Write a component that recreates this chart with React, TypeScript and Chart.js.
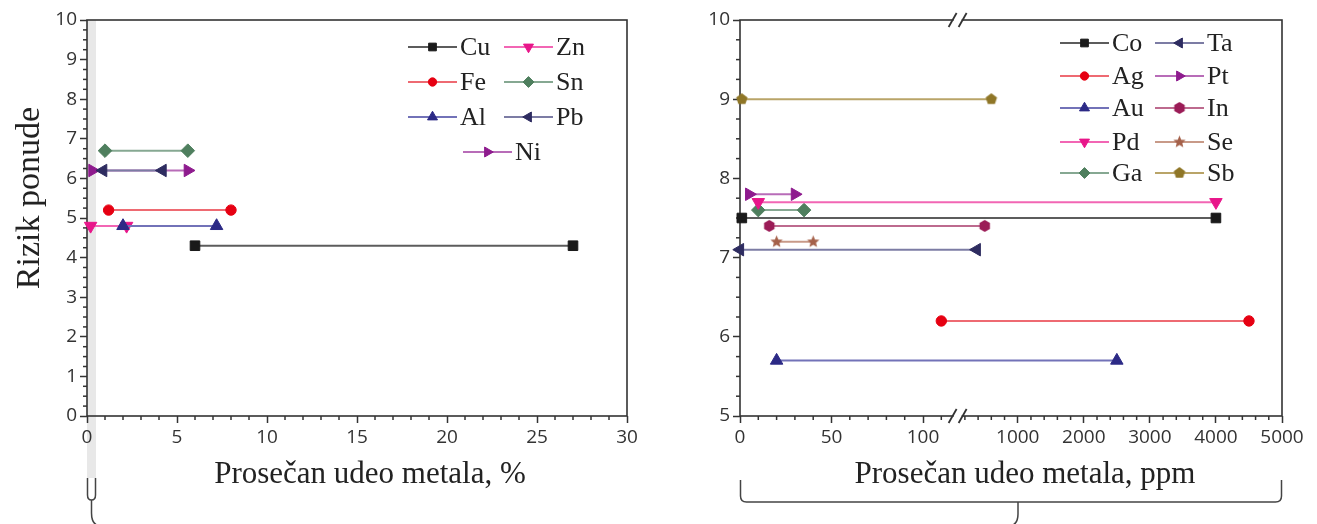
import React, { useEffect, useRef } from 'react';
import { Chart, registerables } from 'chart.js';
import { drawPoint } from 'chart.js/helpers';

Chart.register(...registerables);

// ---------------- Data ----------------
const LEFT_METALS = ['Cu', 'Fe', 'Al', 'Zn', 'Sn', 'Pb', 'Ni'];
const LEFT_RISK = [4.3, 5.2, 4.8, 4.8, 6.7, 6.2, 6.2];
const LEFT_MIN = [6.0, 1.2, 2.0, 0.2, 1.0, 0.9, 0.3];
const LEFT_MAX = [27.0, 8.0, 7.2, 2.2, 5.6, 4.2, 5.6];
const LEFT_X_TICKS = [0, 5, 10, 15, 20, 25, 30];
const LEFT_Y_TICKS = [0, 1, 2, 3, 4, 5, 6, 7, 8, 9, 10];
const LEFT_BAND = [0, 0.5];

const RIGHT_METALS = ['Co', 'Ag', 'Au', 'Pd', 'Ga', 'Ta', 'Pt', 'In', 'Se', 'Sb'];
const RIGHT_RISK = [7.5, 6.2, 5.7, 7.7, 7.6, 7.1, 7.8, 7.4, 7.2, 9.0];
const RIGHT_MIN = [1, 110, 20, 10, 10, 0, 5, 16, 20, 1];
const RIGHT_MAX = [4000, 4500, 2500, 4000, 35, 380, 30, 500, 40, 600];
const RIGHT_X_TICKS = [0, 50, 100, 1000, 2000, 3000, 4000, 5000];
const RIGHT_Y_TICKS = [5, 6, 7, 8, 9, 10];
const X_BREAK = 120;
const X_MAX = 5000;

const X_TITLE_LEFT = 'Prosečan udeo metala, %';
const X_TITLE_RIGHT = 'Prosečan udeo metala, ppm';
const Y_TITLE = 'Rizik ponude';

// ---------------- Styles ----------------
const UPPER_RATIO = 0.0361; // scale factor of the segment after the axis break
const toV = (x: number) => (x <= X_BREAK ? x : X_BREAK + (x - X_BREAK) * UPPER_RATIO);
const fromV = (v: number) => (v <= X_BREAK ? v : X_BREAK + (v - X_BREAK) / UPPER_RATIO);

const AXIS = '#333';
const TEXT = '#222';
const TICK_FONT = { family: '"Open Sans", sans-serif', size: 19 };
const TITLE_FONT = '31px "Liberation Serif", serif';
const Y_TITLE_FONT = '34px "Liberation Serif", serif';
const LEGEND_FONT = '26px "Liberation Serif", serif';

type St = { marker: string; line: string; shape: string; rot: number; r: number };
const STYLES: Record<string, St> = {
  Cu: { marker: '#1a1a1a', line: '#5c5c5c', shape: 'rect', rot: 0, r: 6.8 },
  Fe: { marker: '#e60012', line: '#ee6a72', shape: 'circle', rot: 0, r: 5.2 },
  Al: { marker: '#2c2a86', line: '#7272b8', shape: 'triangle', rot: 0, r: 7.2 },
  Zn: { marker: '#e8168a', line: '#f266b4', shape: 'triangle', rot: 180, r: 7.2 },
  Sn: { marker: '#4f7f5e', line: '#86a892', shape: 'rectRot', rot: 0, r: 6.8 },
  Pb: { marker: '#2e2c60', line: '#7c7ca4', shape: 'triangle', rot: -90, r: 7.2 },
  Ni: { marker: '#8e1b8e', line: '#b86cb8', shape: 'triangle', rot: 90, r: 7.2 },
  Co: { marker: '#1a1a1a', line: '#5c5c5c', shape: 'rect', rot: 0, r: 6.8 },
  Ag: { marker: '#e60012', line: '#ee6a72', shape: 'circle', rot: 0, r: 5.2 },
  Au: { marker: '#2c2a86', line: '#7272b8', shape: 'triangle', rot: 0, r: 7.2 },
  Pd: { marker: '#e8168a', line: '#f266b4', shape: 'triangle', rot: 180, r: 7.2 },
  Ga: { marker: '#4f7f5e', line: '#86a892', shape: 'rectRot', rot: 0, r: 6.8 },
  Ta: { marker: '#2e2c60', line: '#7c7ca4', shape: 'triangle', rot: -90, r: 7.2 },
  Pt: { marker: '#8e1b8e', line: '#b86cb8', shape: 'triangle', rot: 90, r: 7.2 },
  In: { marker: '#9b1c57', line: '#bd6a8e', shape: 'hexagon', rot: 0, r: 6 },
  Se: { marker: '#a5614a', line: '#c89a88', shape: 'star', rot: 0, r: 6.5 },
  Sb: { marker: '#8f7627', line: '#b9a468', shape: 'pentagon', rot: 0, r: 6 },
};

function makeShape(kind: string, color: string, r: number): HTMLCanvasElement {
  const size = Math.ceil(r * 2 + 2);
  const c = document.createElement('canvas');
  c.width = size;
  c.height = size;
  const ctx = c.getContext('2d')!;
  ctx.fillStyle = color;
  ctx.beginPath();
  const star = kind === 'star';
  const n = kind === 'hexagon' ? 6 : 5;
  const pts = star ? n * 2 : n;
  for (let k = 0; k < pts; k++) {
    const a = -Math.PI / 2 + (k * 2 * Math.PI) / pts;
    const rr = star ? (k % 2 === 0 ? r : r * 0.45) : r;
    const px = size / 2 + rr * Math.cos(a);
    const py = size / 2 + rr * Math.sin(a);
    if (k === 0) ctx.moveTo(px, py);
    else ctx.lineTo(px, py);
  }
  ctx.closePath();
  ctx.fill();
  return c;
}

function buildDatasets(names: string[], risk: number[], mn: number[], mx: number[], map: (x: number) => number) {
  return names.map((n, i) => {
    const st = STYLES[n];
    const custom = ['hexagon', 'star', 'pentagon'].includes(st.shape);
    const ps: any = custom ? makeShape(st.shape, st.marker, st.r) : st.shape;
    return {
      label: n,
      data: [
        { x: map(mn[i]), y: risk[i] },
        { x: map(mx[i]), y: risk[i] },
      ],
      showLine: true,
      borderColor: st.line,
      borderWidth: 2,
      backgroundColor: st.marker,
      pointBackgroundColor: st.marker,
      pointBorderColor: st.marker,
      pointBorderWidth: 1,
      pointStyle: ps,
      pointRotation: st.rot,
      pointRadius: st.r,
      pointHoverRadius: st.r,
      clip: false as any,
    };
  });
}

function line(ctx: CanvasRenderingContext2D, x1: number, y1: number, x2: number, y2: number) {
  ctx.beginPath();
  ctx.moveTo(x1, y1);
  ctx.lineTo(x2, y2);
  ctx.stroke();
}

function scaleCfg(min: number, max: number, ticks: number[], label: (v: number) => string, fit: 'w' | 'h', size: number) {
  return {
    type: 'linear' as const,
    min,
    max,
    afterBuildTicks: (s: any) => {
      s.ticks = ticks.map((v) => ({ value: v }));
    },
    afterFit: (s: any) => {
      if (fit === 'w') s.width = size;
      else s.height = size;
    },
    ticks: {
      autoSkip: false,
      maxRotation: 0,
      padding: 3,
      color: '#333',
      font: TICK_FONT,
      callback: (v: any) => label(Number(v)),
    },
    grid: { drawOnChartArea: false, drawTicks: true, tickLength: 7, tickColor: AXIS, tickWidth: 1.5 },
    border: { display: false },
  };
}

type Deco = {
  xMinor: number[];
  yMinor: number[];
  legend: { i: number; x: number; y: number }[];
  xTitle: string;
  xTitleDx: number;
  yTitle?: string;
  band?: number[];
  brk?: number;
  leftBracket?: boolean;
  rightBracket?: boolean;
};

function decoPlugin(d: Deco) {
  return {
    id: 'deco',
    beforeDraw(chart: any) {
      if (!d.band) return;
      const { ctx, chartArea, scales } = chart;
      const x0 = scales.x.getPixelForValue(d.band[0]);
      const x1 = scales.x.getPixelForValue(d.band[1]);
      ctx.save();
      ctx.fillStyle = '#e8e8e8';
      ctx.fillRect(x0, chartArea.top, x1 - x0, 478 - chartArea.top);
      ctx.restore();
    },
    beforeDatasetsDraw(chart: any) {
      const { ctx, chartArea: a, scales } = chart;
      ctx.save();
      ctx.strokeStyle = AXIS;
      ctx.lineWidth = 1.6;
      ctx.strokeRect(a.left, a.top, a.right - a.left, a.bottom - a.top);
      ctx.lineWidth = 1.5;
      d.xMinor.forEach((v) => {
        const px = scales.x.getPixelForValue(v);
        line(ctx, px, a.bottom, px, a.bottom + 4);
      });
      d.yMinor.forEach((v) => {
        const py = scales.y.getPixelForValue(v);
        line(ctx, a.left, py, a.left - 4, py);
      });
      ctx.restore();
    },
    afterDraw(chart: any) {
      const { ctx, chartArea: a, scales } = chart;
      ctx.save();
      // axis break marks
      if (d.brk !== undefined) {
        const bp = scales.x.getPixelForValue(d.brk) - 2;
        [a.top, a.bottom].forEach((y) => {
          ctx.fillStyle = '#fff';
          ctx.fillRect(bp - 4, y - 2, 8, 4);
          ctx.strokeStyle = AXIS;
          ctx.lineWidth = 1.8;
          line(ctx, bp - 9, y + 7, bp - 1, y - 7);
          line(ctx, bp + 1, y + 7, bp + 9, y - 7);
        });
      }
      // legend
      d.legend.forEach((it) => {
        const ds: any = chart.data.datasets[it.i];
        const x = a.left + it.x;
        const y = a.top + it.y;
        ctx.strokeStyle = ds.borderColor;
        ctx.lineWidth = 2;
        line(ctx, x, y, x + 49, y);
        ctx.fillStyle = ds.pointBackgroundColor;
        ctx.strokeStyle = ds.pointBorderColor;
        ctx.lineWidth = 1;
        drawPoint(ctx, { pointStyle: ds.pointStyle, rotation: ds.pointRotation, radius: ds.pointRadius * 0.8, borderWidth: 1 } as any, x + 24.5, y);
        ctx.fillStyle = TEXT;
        ctx.font = LEGEND_FONT;
        ctx.textBaseline = 'middle';
        ctx.textAlign = 'left';
        ctx.fillText(ds.label, x + 52, y + 1);
      });
      // titles
      ctx.fillStyle = TEXT;
      ctx.font = TITLE_FONT;
      ctx.textAlign = 'center';
      ctx.textBaseline = 'middle';
      ctx.fillText(d.xTitle, (a.left + a.right) / 2 + d.xTitleDx, a.bottom + 59);
      if (d.yTitle) {
        ctx.save();
        ctx.font = Y_TITLE_FONT;
        ctx.translate(30, (a.top + a.bottom) / 2 - 20);
        ctx.rotate(-Math.PI / 2);
        ctx.fillText(d.yTitle, 0, 0);
        ctx.restore();
      }
      // brackets
      ctx.strokeStyle = '#444';
      ctx.lineWidth = 1.5;
      if (d.leftBracket && d.band) {
        const x0 = scales.x.getPixelForValue(d.band[0]) + 0.5;
        const x1 = scales.x.getPixelForValue(d.band[1]) - 0.5;
        const xm = (x0 + x1) / 2;
        ctx.beginPath();
        ctx.moveTo(x0, 478);
        ctx.lineTo(x0, 495);
        ctx.quadraticCurveTo(x0, 500, xm, 500);
        ctx.quadraticCurveTo(x1, 500, x1, 495);
        ctx.lineTo(x1, 478);
        ctx.moveTo(xm, 500);
        ctx.lineTo(xm, 513);
        ctx.quadraticCurveTo(xm, 526, xm + 10, 526);
        ctx.lineTo(chart.width + 5, 526);
        ctx.stroke();
      }
      if (d.rightBracket) {
        const l = a.left + 0.5;
        const r = a.right - 0.5;
        const yb = 502;
        const sx = a.left + 278;
        ctx.beginPath();
        ctx.moveTo(l, 480);
        ctx.lineTo(l, yb - 6);
        ctx.quadraticCurveTo(l, yb, l + 6, yb);
        ctx.lineTo(r - 6, yb);
        ctx.quadraticCurveTo(r, yb, r, yb - 6);
        ctx.lineTo(r, 480);
        ctx.moveTo(sx, yb);
        ctx.lineTo(sx, 514);
        ctx.quadraticCurveTo(sx, 526, sx - 10, 526);
        ctx.lineTo(-5, 526);
        ctx.stroke();
      }
      ctx.restore();
    },
  };
}

function range(a: number, b: number, step: number, skip: number[]) {
  const out: number[] = [];
  for (let v = a; v <= b + 1e-9; v += step) {
    const r = Math.round(v * 1000) / 1000;
    if (!skip.some((s) => Math.abs(s - r) < 1e-6)) out.push(r);
  }
  return out;
}

export default function App() {
  const leftRef = useRef<HTMLCanvasElement>(null);
  const rightRef = useRef<HTMLCanvasElement>(null);

  useEffect(() => {
    const charts: Chart[] = [];
    const common = {
      responsive: false,
      animation: false as const,
      devicePixelRatio: 1,
      events: [] as any,
      plugins: { legend: { display: false }, tooltip: { enabled: false } },
    };

    // Left chart
    const leftDeco: Deco = {
      xMinor: range(0, 30, 1, LEFT_X_TICKS),
      yMinor: range(0, 10, 0.25, LEFT_Y_TICKS),
      legend: [
        { i: 0, x: 321, y: 27 },
        { i: 3, x: 417, y: 27 },
        { i: 1, x: 321, y: 62 },
        { i: 4, x: 417, y: 62 },
        { i: 2, x: 321, y: 97 },
        { i: 5, x: 417, y: 97 },
        { i: 6, x: 376, y: 132 },
      ],
      xTitle: X_TITLE_LEFT,
      xTitleDx: 13,
      yTitle: Y_TITLE,
      band: LEFT_BAND,
      leftBracket: true,
    };
    charts.push(
      new Chart(leftRef.current!, {
        type: 'scatter',
        data: { datasets: buildDatasets(LEFT_METALS, LEFT_RISK, LEFT_MIN, LEFT_MAX, (x) => x) as any },
        options: {
          ...common,
          layout: { padding: { left: 0, right: 33, top: 20, bottom: 0 } },
          scales: {
            x: scaleCfg(0, 30, LEFT_X_TICKS, (v) => String(v), 'h', 108) as any,
            y: scaleCfg(0, 10, LEFT_Y_TICKS, (v) => String(v), 'w', 87) as any,
          },
        } as any,
        plugins: [decoPlugin(leftDeco) as any],
      })
    );

    // Right chart
    const rightDeco: Deco = {
      xMinor: [
        ...range(0, 110, 10, RIGHT_X_TICKS),
        ...range(200, 4800, 200, RIGHT_X_TICKS),
      ].map(toV),
      yMinor: range(5, 10, 0.25, RIGHT_Y_TICKS),
      legend: [
        { i: 0, x: 320, y: 23 },
        { i: 1, x: 320, y: 56 },
        { i: 2, x: 320, y: 88 },
        { i: 3, x: 320, y: 122 },
        { i: 4, x: 320, y: 153 },
        { i: 5, x: 415, y: 23 },
        { i: 6, x: 415, y: 56 },
        { i: 7, x: 415, y: 88 },
        { i: 8, x: 415, y: 122 },
        { i: 9, x: 415, y: 153 },
      ],
      xTitle: X_TITLE_RIGHT,
      xTitleDx: 14,
      brk: X_BREAK,
      rightBracket: true,
    };
    charts.push(
      new Chart(rightRef.current!, {
        type: 'scatter',
        data: { datasets: buildDatasets(RIGHT_METALS, RIGHT_RISK, RIGHT_MIN, RIGHT_MAX, toV) as any },
        options: {
          ...common,
          layout: { padding: { left: 0, right: 35, top: 20, bottom: 0 } },
          scales: {
            x: scaleCfg(0, toV(X_MAX), RIGHT_X_TICKS.map(toV), (v) => String(Math.round(fromV(v))), 'h', 108) as any,
            y: scaleCfg(5, 10, RIGHT_Y_TICKS, (v) => String(v), 'w', 80) as any,
          },
        } as any,
        plugins: [decoPlugin(rightDeco) as any],
      })
    );

    let alive = true;
    const fonts = (document as any).fonts;
    if (fonts && fonts.load) {
      Promise.all([
        fonts.load('19px "Open Sans"'),
        fonts.load('31px "Liberation Serif"'),
      ])
        .then(() => {
          if (alive) charts.forEach((c) => c.update());
        })
        .catch(() => {});
    }
    return () => {
      alive = false;
      charts.forEach((c) => c.destroy());
    };
  }, []);

  return (
    <div style={{ position: 'absolute', left: 0, top: 0, width: 1317, height: 524, background: '#fff', overflow: 'hidden' }}>
      <canvas ref={leftRef} width={660} height={524} style={{ position: 'absolute', left: 0, top: 0 }} />
      <canvas ref={rightRef} width={657} height={524} style={{ position: 'absolute', left: 660, top: 0 }} />
    </div>
  );
}
